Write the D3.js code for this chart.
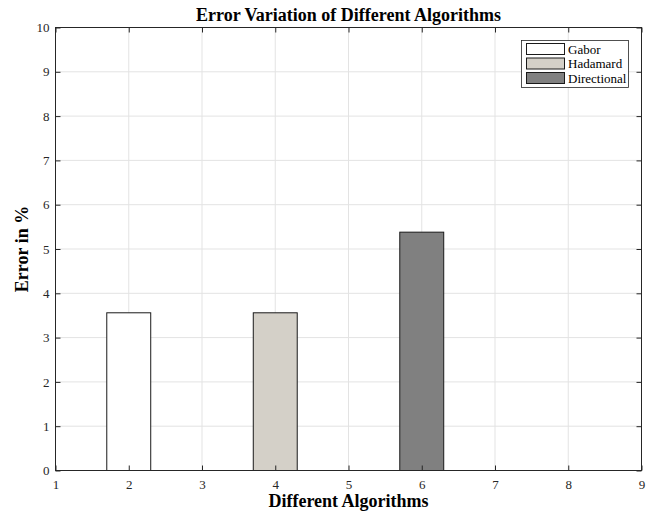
<!DOCTYPE html>
<html><head><meta charset="utf-8">
<script src="https://cdn.jsdelivr.net/npm/d3@7"></script>
<style>body{margin:0;background:#fff}svg{display:block}text{font-family:"Liberation Serif","Times New Roman",serif}</style>
</head><body><svg id="c" width="656" height="513"></svg>
<script>
const categories = ["Gabor", "Hadamard", "Directional"];
const positions = [2, 4, 6];
const values = [3.56, 3.56, 5.38];
const colors = ["#ffffff", "#d4d0c8", "#808080"];
const xTicks = [1,2,3,4,5,6,7,8,9];
const yTicks = [0,1,2,3,4,5,6,7,8,9,10];

const svg = d3.select("#c");
const L=55.5, R=641.5, T=27.5, B=470.5;
const x = d3.scaleLinear().domain([1,9]).range([L,R]);
const y = d3.scaleLinear().domain([0,10]).range([B,T]);
const axisCol="#262626";

// grid
svg.append("g").selectAll("line").data(xTicks.slice(1,-1)).join("line")
  .attr("x1",d=>x(d)).attr("x2",d=>x(d)).attr("y1",T).attr("y2",B)
  .attr("stroke","#e3e3e3").attr("stroke-width",1);
svg.append("g").selectAll("line").data(yTicks.slice(1,-1)).join("line")
  .attr("y1",d=>y(d)).attr("y2",d=>y(d)).attr("x1",L).attr("x2",R)
  .attr("stroke","#e3e3e3").attr("stroke-width",1);

// bars
const bw = 0.6;
svg.append("g").selectAll("rect").data(values).join("rect")
  .attr("x",(d,i)=>x(positions[i]-bw/2)).attr("width",(d,i)=>x(positions[i]+bw/2)-x(positions[i]-bw/2))
  .attr("y",d=>y(d)).attr("height",d=>y(0)-y(d))
  .attr("fill",(d,i)=>colors[i]).attr("stroke","#1a1a1a").attr("stroke-width",1);

// axes
const ax = (g)=>{g.select(".domain").remove(); g.selectAll("line").attr("stroke",axisCol); g.selectAll("text").attr("fill","#262626").style("font-size","13px").style("font-family","Liberation Serif");};
svg.append("g").attr("transform",`translate(0,${B})`)
  .call(d3.axisBottom(x).tickValues(xTicks).tickSize(-5).tickPadding(9).tickFormat(d3.format("d"))).call(ax);
svg.append("g").attr("transform",`translate(0,${T})`)
  .call(d3.axisTop(x).tickValues(xTicks).tickSize(-5).tickFormat("")).call(ax);
svg.append("g").attr("transform",`translate(${L},0)`)
  .call(d3.axisLeft(y).tickValues(yTicks).tickSize(-5).tickPadding(6).tickFormat(d3.format("d"))).call(ax);
svg.append("g").attr("transform",`translate(${R},0)`)
  .call(d3.axisRight(y).tickValues(yTicks).tickSize(-5).tickFormat("")).call(ax);
svg.append("rect").attr("x",L).attr("y",T).attr("width",R-L).attr("height",B-T)
  .attr("fill","none").attr("stroke",axisCol).attr("stroke-width",1);

// title & labels
svg.append("text").attr("x",(L+R)/2).attr("y",21).attr("text-anchor","middle")
  .style("font-size","18px").style("font-weight","bold").attr("fill","#000").text("Error Variation of Different Algorithms");
svg.append("text").attr("x",(L+R)/2).attr("y",507).attr("text-anchor","middle")
  .style("font-size","18px").style("font-weight","bold").attr("fill","#000").text("Different Algorithms");
svg.append("text").attr("transform",`translate(28,${(T+B)/2}) rotate(-90)`).attr("text-anchor","middle")
  .style("font-size","18px").style("font-weight","bold").attr("fill","#000").text("Error in %");

// legend
const lg = svg.append("g");
lg.append("rect").attr("x",521.5).attr("y",40.5).attr("width",107).attr("height",47)
  .attr("fill","#fff").attr("stroke","#262626").attr("stroke-width",0.8);
categories.forEach((c,i)=>{
  const yy = 43.5 + i*14.5;
  lg.append("rect").attr("x",526.5).attr("y",yy).attr("width",38).attr("height",11)
    .attr("fill",colors[i]).attr("stroke","#1a1a1a").attr("stroke-width",1);
  lg.append("text").attr("x",568).attr("y",yy+10).style("font-size","13px").attr("fill","#000").text(c);
});
</script></body></html>
